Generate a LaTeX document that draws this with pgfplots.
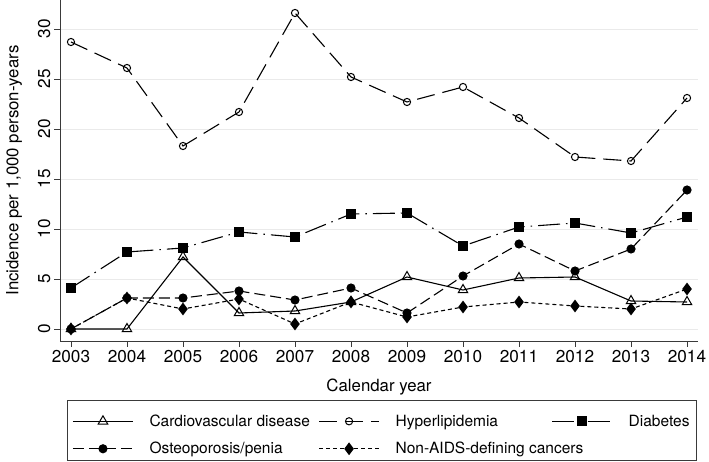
\documentclass[border=0pt]{standalone}
\usepackage{pgfplots}
\pgfplotsset{compat=1.18}
\usepackage{fontspec}
\setmainfont{TeX Gyre Heros}
\definecolor{gridc}{HTML}{EAEAEA}
\definecolor{axc}{HTML}{3A3A3A}
\begin{document}
\begin{tikzpicture}
\begin{axis}[
  scale only axis, width=638pt, height=341pt,
  xmin=2002.804, xmax=2014.196, ymin=-1.2, ymax=32.9,
  axis x line=bottom, axis y line=left,
  axis line style={-, axc, line width=0.8pt},
  xtick={2003,...,2014}, ytick={0,5,...,30},
  x tick label style={/pgf/number format/1000 sep={}},
  /pgf/number format/assume math mode=true,
  tick label style={font=\fontsize{17.2}{19}\selectfont},
  yticklabel style={rotate=90, anchor=south},
  tick align=outside, major tick length=6pt,
  tick style={axc, line width=0.8pt},
  ymajorgrids, grid style={gridc, line width=0.9pt},
  xlabel={Calendar year}, ylabel={Incidence per 1,000 person-years},
  label style={font=\fontsize{16.8}{18}\selectfont},
  xlabel style={at={(axis description cs:0.5,0)}, anchor=center, yshift=-46pt},
  ylabel style={at={(axis description cs:-0.072,0.5)}, anchor=center},
  clip=false,
  legend columns=3,
  legend image code/.code={\path (0pt,17.4pt); \draw[mark repeat=2,mark phase=2,#1] plot coordinates {(0pt,0pt) (30pt,0pt) (60pt,0pt)};},
  legend style={at={(0.011,-0.174)}, anchor=north west, draw=axc, line width=0.8pt,
    font=\fontsize{15.5}{17}\selectfont, inner xsep=5pt, inner ysep=2.6pt,
    row sep=1pt,
    /tikz/every odd column/.append style={column sep=14pt},
    /tikz/every even column/.append style={column sep=0pt}},
  legend cell align=left,
]
\addplot[black, line width=1.1pt, mark=triangle, mark size=5.5pt, mark options={solid, line width=1pt}] coordinates {
(2003,0) (2004,0) (2005,7.2) (2006,1.6) (2007,1.8) (2008,2.7) (2009,5.2) (2010,3.9) (2011,5.1) (2012,5.2) (2013,2.8) (2014,2.7)};
\addlegendentry{\makebox[167pt][l]{Cardiovascular disease}}
\addplot[black, line width=1.1pt, dash pattern=on 18pt off 8pt, mark=o, mark size=3.6pt, mark options={solid, line width=1pt}] coordinates {
(2003,28.7) (2004,26.1) (2005,18.3) (2006,21.7) (2007,31.6) (2008,25.2) (2009,22.7) (2010,24.2) (2011,21.1) (2012,17.2) (2013,16.8) (2014,23.1)};
\addlegendentry{\makebox[154pt][l]{Hyperlipidemia}}
\addplot[black, line width=1.1pt, dash pattern=on 22pt off 6pt on 1.5pt off 6pt, mark=square*, mark size=4.5pt, mark options={solid}] coordinates {
(2003,4.1) (2004,7.7) (2005,8.1) (2006,9.7) (2007,9.2) (2008,11.5) (2009,11.6) (2010,8.3) (2011,10.2) (2012,10.6) (2013,9.6) (2014,11.2)};
\addlegendentry{Diabetes}
\addplot[black, line width=1.1pt, dash pattern=on 11pt off 5pt, mark=*, mark size=4pt, mark options={solid}] coordinates {
(2003,0) (2004,3.1) (2005,3.1) (2006,3.8) (2007,2.9) (2008,4.1) (2009,1.6) (2010,5.3) (2011,8.5) (2012,5.8) (2013,8.0) (2014,13.9)};
\addlegendentry{\makebox[167pt][l]{Osteoporosis/penia}}
\addplot[black, line width=1.1pt, dash pattern=on 4pt off 3pt, mark=diamond*, mark size=5.5pt, mark options={solid}] coordinates {
(2003,0) (2004,3.1) (2005,2.0) (2006,3.0) (2007,0.5) (2008,2.7) (2009,1.2) (2010,2.2) (2011,2.7) (2012,2.3) (2013,2.0) (2014,4.0)};
\addlegendentry{\makebox[154pt][l]{Non-AIDS-defining cancers}}
\end{axis}
\pgfresetboundingbox
\path (-60pt,-121pt) rectangle (649pt,341pt);
\end{tikzpicture}
\end{document}
